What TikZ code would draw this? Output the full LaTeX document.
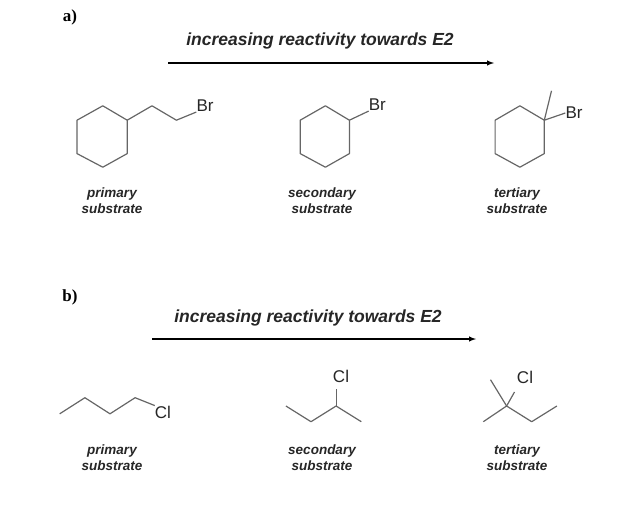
\documentclass[tikz,border=0pt]{standalone}
\usepackage{fontspec}
\setsansfont{Liberation Sans}
\setmainfont{Liberation Serif}
\begin{document}
\begin{tikzpicture}[x=1pt,y=-1pt,
  bond/.style={draw=black!60,line width=1.2pt,line join=round},
  atom/.style={font=\sffamily\fontsize{17}{17}\selectfont,inner sep=0pt,text=black!85},
  lbl/.style={font=\sffamily\bfseries\itshape\fontsize{13.5}{16}\selectfont,align=center,text=black!85},
  head/.style={font=\sffamily\bfseries\itshape\fontsize{17.5}{18}\selectfont,text=black!85},
  part/.style={font=\bfseries\fontsize{17}{17}\selectfont}]
\useasboundingbox (0,0) rectangle (640,512);
\node[part] (pa) at (70,17) {a)};
\node[part] (pb) at (70,297) {b)};
% arrows
\coordinate (a1) at (168,63); \coordinate (a2) at (494,63);
\draw[line width=1.4pt,-latex] (a1) -- (a2);
\node[head] (ha) at (320,41) {increasing reactivity towards E2};
\coordinate (b1) at (152,339); \coordinate (b2) at (476,339);
\draw[line width=1.4pt,-latex] (b1) -- (b2);
\node[head] (hb) at (308,318) {increasing reactivity towards E2};
% mol 1 top
\node[atom] (br1) at (205,106) {Br};
\draw[bond] (102.8,105.8) -- (127.2,120.2) -- (127.2,153.6) -- (102.8,167.2) -- (77,153.6) -- (77,120.2) -- cycle;
\draw[bond] (127.2,120.2) -- (152,105.8) -- (176.4,120.2) -- (br1.south west);
% mol 2 top
\node[atom] (br2) at (377.4,105) {Br};
\draw[bond] (325.4,105.8) -- (349.4,120.2) -- (349.4,153.6) -- (325.4,167.2) -- (300.2,153.6) -- (300.2,120.2) -- cycle;
\draw[bond] (349.4,120.2) -- (br2.south west);
% mol 3 top
\node[atom] (br3) at (574,113) {Br};
\draw[bond] (519.9,105.8) -- (544.3,120.2) -- (544.3,153.6) -- (519.9,167.2) -- (495.1,153.6) -- (495.1,120.2) -- cycle;
\draw[bond] (544.3,120.2) -- (551.5,90.8);
\draw[bond] (544.3,120.2) -- (br3.west);
% labels top
\node[lbl] (l1) at (112,201) {primary\\substrate};
\node[lbl] (l2) at (322,201) {secondary\\substrate};
\node[lbl] (l3) at (517,201) {tertiary\\substrate};
% mol 1 bottom
\node[atom] (cl1) at (163,412) {Cl};
\draw[bond] (59.7,413.8) -- (84.9,397.7) -- (110,413.8) -- (135.1,397.7) -- (cl1.north west);
% mol 2 bottom
\node[atom] (cl2) at (341,376) {Cl};
\coordinate (c2) at (336.1,389);
\draw[bond] (285.9,406) -- (311,421.7) -- (336.1,406) -- (361.3,421.7);
\draw[bond] (336.1,406) -- (c2);
% mol 3 bottom
\node[atom] (cl3) at (525,377) {Cl};
\coordinate (c3) at (514.5,392);
\draw[bond] (483.3,421.7) -- (506.6,406) -- (531.7,421.7) -- (556.9,406);
\draw[bond] (506.6,406) -- (490.5,379.7);
\draw[bond] (506.6,406) -- (c3);
% labels bottom
\node[lbl] (m1) at (112,458) {primary\\substrate};
\node[lbl] (m2) at (322,458) {secondary\\substrate};
\node[lbl] (m3) at (517,458) {tertiary\\substrate};
\end{tikzpicture}
\end{document}
